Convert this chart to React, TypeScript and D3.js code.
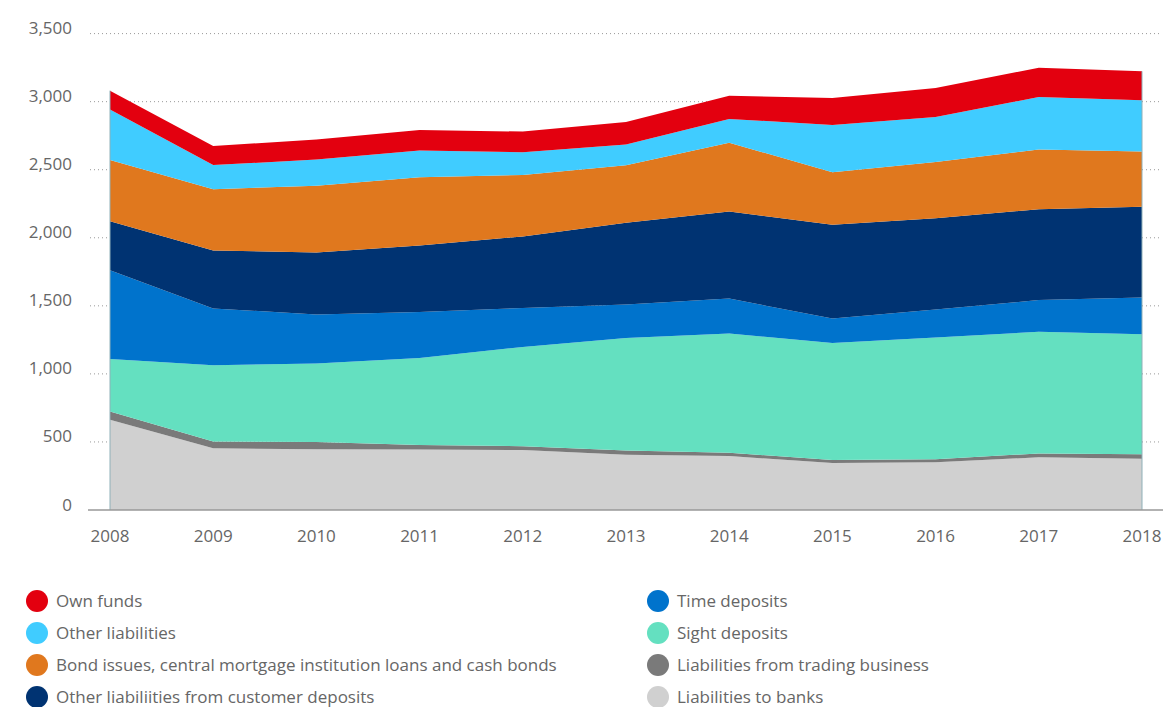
import React from 'react';
import * as d3 from 'd3';

const years = [2008, 2009, 2010, 2011, 2012, 2013, 2014, 2015, 2016, 2017, 2018];

// stacked from the bottom up
const liabilitiesToBanks = [663, 453, 446, 445, 440, 406, 396, 345, 350, 387, 377];
const tradingBusiness = [61, 51, 53, 32, 29, 32, 25, 22, 22, 29, 32];
const sightDeposits = [385, 559, 577, 640, 729, 826, 875, 859, 896, 893, 883];
const timeDeposits = [653, 418, 360, 338, 286, 245, 257, 181, 205, 233, 269];
const otherCustomerDeposits = [360, 426, 455, 489, 526, 601, 640, 688, 671, 668, 666];
const bondIssues = [450, 450, 492, 501, 452, 423, 506, 386, 413, 438, 406];
const otherLiabilities = [370, 177, 192, 196, 166, 152, 174, 348, 330, 386, 377];
const ownFunds = [139, 140, 147, 151, 152, 166, 171, 198, 213, 216, 213];

const yTicks = [0, 500, 1000, 1500, 2000, 2500, 3000, 3500];

const series = [
  { key: 'banks', label: 'Liabilities to banks', color: '#d0d0d0', values: liabilitiesToBanks },
  { key: 'trading', label: 'Liabilities from trading business', color: '#7a7a7a', values: tradingBusiness },
  { key: 'sight', label: 'Sight deposits', color: '#64e0c0', values: sightDeposits },
  { key: 'time', label: 'Time deposits', color: '#0073cc', values: timeDeposits },
  { key: 'otherCust', label: 'Other liabiliities from customer deposits', color: '#003372', values: otherCustomerDeposits },
  { key: 'bonds', label: 'Bond issues, central mortgage institution loans and cash bonds', color: '#e0781e', values: bondIssues },
  { key: 'otherLiab', label: 'Other liabilities', color: '#40ccff', values: otherLiabilities },
  { key: 'own', label: 'Own funds', color: '#e3000f', values: ownFunds },
];

const legendLeft = ['own', 'otherLiab', 'bonds', 'otherCust'];
const legendRight = ['time', 'sight', 'trading', 'banks'];

const W = 1163;
const H = 707;
const FONT = '"Open Sans", "Noto Sans", sans-serif';
const TEXT = '#666';

export default function App() {
  const x = d3.scaleLinear().domain([2008, 2018]).range([110, 1142]);
  const y = d3.scaleLinear().domain([0, 3500]).range([510, 33.6]);

  const rows = years.map((yr, i) => {
    const r: any = { year: yr };
    series.forEach(s => (r[s.key] = s.values[i]));
    return r;
  });
  const stacked = d3.stack<any>().keys(series.map(s => s.key))(rows);

  const area = d3
    .area<any>()
    .x(d => x(d.data.year))
    .y0(d => y(d[0]))
    .y1(d => y(d[1]));

  const byKey = (k: string) => series.find(s => s.key === k)!;

  return (
    <svg width={W} height={H} style={{ position: 'absolute', left: 0, top: 0 }} fontFamily={FONT}>
      {yTicks.slice(1).map(t => (
        <line key={t} x1={90} x2={1160} y1={y(t)} y2={y(t)} stroke="#999" strokeWidth={1} strokeDasharray="1,3" />
      ))}
      {stacked.map((layer, i) => (
        <path key={layer.key} d={area(layer) || ''} fill={series[i].color} />
      ))}
      <line x1={x(2008)} x2={x(2008)} y1={y(0)} y2={y(stacked[stacked.length - 1][0][1])} stroke="#8fb0b8" strokeWidth={1} />
      <line x1={x(2018)} x2={x(2018)} y1={y(0)} y2={y(stacked[stacked.length - 1][10][1])} stroke="#8fb0b8" strokeWidth={1} />
      <line x1={88} x2={1163} y1={y(0)} y2={y(0)} stroke="#999" strokeWidth={1.5} />
      {yTicks.map(t => (
        <text key={t} x={72} y={y(t) - 4} textAnchor="end" dominantBaseline="middle" fontSize={17} fill={TEXT}>
          {d3.format(',')(t)}
        </text>
      ))}
      {years.map(yr => (
        <text key={yr} x={x(yr)} y={537} textAnchor="middle" dominantBaseline="middle" fontSize={17} fill={TEXT}>
          {yr}
        </text>
      ))}
      {[legendLeft, legendRight].map((col, ci) =>
        col.map((k, ri) => {
          const s = byKey(k);
          const cx = ci === 0 ? 37 : 658;
          const cy = 601 + ri * 32;
          return (
            <g key={k}>
              <circle cx={cx} cy={cy} r={11} fill={s.color} />
              <text x={cx + 19} y={cy + 1} dominantBaseline="middle" fontSize={17} fill={TEXT}>
                {s.label}
              </text>
            </g>
          );
        })
      )}
    </svg>
  );
}
